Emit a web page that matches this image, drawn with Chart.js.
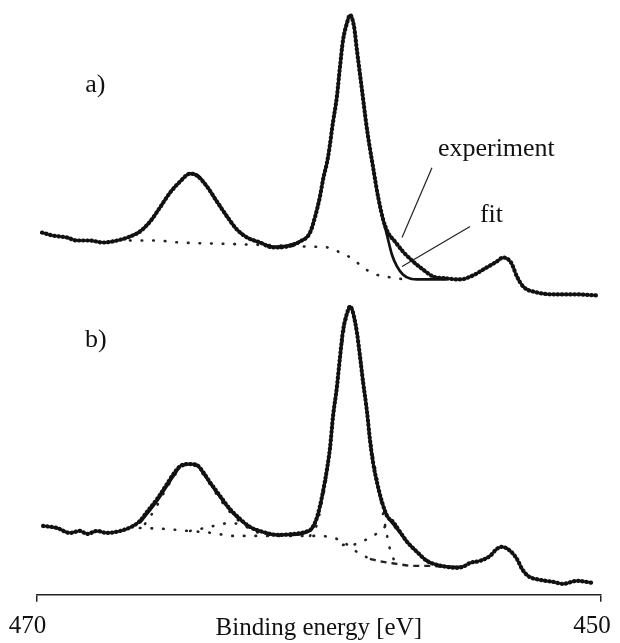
<!DOCTYPE html>
<html>
<head>
<meta charset="utf-8">
<script src="https://cdn.jsdelivr.net/npm/chart.js@4.4.1/dist/chart.umd.min.js"></script>
<style>
  html, body { margin: 0; padding: 0; background: #fff; }
  #wrap { width: 620px; height: 643px; }
</style>
</head>
<body>
<div id="wrap"><canvas id="xps" width="620" height="643"></canvas></div>
<script>
// XPS spectra, binding energy (eV) vs intensity (arb. units)

// a) experiment
var expA_E = [469.81,469.42,468.92,468.57,468.11,467.65,467.15,466.69,466.34,465.98,465.63,465.27,464.92,464.56,464.32,463.96,463.61,463.25,462.90,462.54,462.08,461.62,461.13,460.67,460.31,460.13,459.96,459.85,459.67,459.50,459.36,459.25,459.14,459.00,458.89,458.75,458.65,458.47,458.29,458.08,457.90,457.72,457.55,457.30,457.02,456.66,456.31,455.95,455.46,455.00,454.54,454.11,453.69,453.47,453.19,452.98,452.76,452.27,451.59,450.89,450.11];
var expA_I = [363,360,358,355,355,353,355,359,364,374,388,403,414,422,420,409,394,379,366,358,353,348,349,354,363,379,399,416,439,473,499,529,556,573,581,569,546,506,466,429,399,376,363,354,344,334,326,319,317,316,320,327,334,338,333,319,309,303,301,301,300];

// a) fit
var fitA_E = [466.69,466.34,465.98,465.63,465.27,464.92,464.56,464.32,463.96,463.61,463.25,462.90,462.54,462.08,461.62,461.13,460.67,460.31,460.13,459.96,459.85,459.67,459.50,459.36,459.25,459.14,459.00,458.89,458.75,458.65,458.47,458.29,458.08,457.90,457.72,457.58,457.41,457.23,457.02,456.77,456.41,455.46];
var fitA_I = [359,364,374,388,403,414,422,421,409,394,379,366,358,353,349,350,354,363,379,399,416,439,473,499,529,556,574,581,570,546,506,466,429,399,376,360,341,329,321,317,316,316];

// a) background
var bgA_E = [466.69,465.80,464.92,463.75,462.54,461.37,460.49,459.67,459.25,458.82,458.47,458.08,457.65,457.23,456.77];
var bgA_I = [355,355,353,352,351,350,349,348,343,337,329,322,319,317,316];

// b) experiment
var expB_E = [469.77,469.28,468.82,468.46,468.21,467.86,467.51,467.04,466.58,466.34,466.09,465.73,465.38,465.10,464.85,464.56,464.32,464.10,463.86,463.50,463.15,462.79,462.44,461.98,461.48,460.91,460.49,460.24,460.06,459.89,459.71,459.60,459.50,459.36,459.25,459.14,459.00,458.89,458.79,458.65,458.54,458.43,458.29,458.19,458.08,457.94,457.76,457.58,457.37,457.12,456.87,456.52,456.17,455.81,455.46,455.10,454.82,454.64,454.29,453.93,453.69,453.51,453.22,452.98,452.80,452.59,452.16,451.70,451.35,450.85,450.32];
var expB_I = [69,67,62,64,61,64,62,64,69,74,83,96,111,123,130,131,130,123,113,99,86,76,68,63,60,61,63,67,78,98,126,148,178,208,238,265,282,289,283,263,239,213,183,156,133,113,93,79,73,63,53,43,34,30,28,27,29,32,34,39,46,48,44,36,26,19,15,13,11,14,12];

// b) fit
var fitB_E = [466.34,466.09,465.73,465.38,465.10,464.85,464.56,464.32,464.10,463.86,463.50,463.15,462.79,462.44,461.98,461.48,460.91,460.49,460.24,460.06,459.89,459.71,459.60,459.50,459.36,459.25,459.14,459.00,458.89,458.79,458.65,458.54,458.43,458.29,458.19,458.08,457.94,457.76,457.58,457.37,457.12,456.87,456.52,456.17,455.81,455.35,454.89];
var fitB_I = [72,81,94,109,121,130,131,130,122,112,98,85,75,68,63,60,60,62,66,77,97,124,147,177,207,237,264,282,289,283,263,239,213,183,156,133,113,93,79,71,62,53,43,34,30,28,28];

// b) background (dotted part, then dashed tail)
var bgB_E = [466.34,465.45,464.63,463.78,463.04,462.08,461.37,460.21,459.60,459.14,458.65,458.19];
var bgB_I = [67,66,64,62,59,59,59,59,58,53,43,36];
var bgTailB_E = [458.19,457.72,457.23,456.66,456.17,455.46];
var bgTailB_I = [36,33,31,29,29,28];

// b) fit components
var mainB_E = [460.31,460.06,459.89,459.71,459.50,459.25,459.00,458.89,458.79,458.65,458.47,458.29,458.11,458.01,457.90,457.80,457.69,457.58,457.48,457.37,457.23];
var mainB_I = [59,71,93,121,176,236,280,287,281,261,223,183,144,128,111,94,76,59,46,37,31];
var shoulderB_E = [459.14,458.82,458.54,458.26,457.97,457.72,457.48,457.23,456.95,456.59,456.24,455.81,455.35];
var shoulderB_I = [50,50,53,56,61,67,70,66,56,45,36,30,28];
var p1B_E = [466.16,465.80,465.45,465.10,464.81,464.56,464.32,464.03,463.75,463.43,463.15,462.79,462.44,462.01,461.55];
var p1B_I = [71,86,104,120,129,130,128,118,106,93,83,73,66,61,59];
var smallB_E = [464.56,464.03,463.57,463.15,462.72,462.26,461.80];
var smallB_I = [64,67,70,72,70,65,60];

// leader lines for the labels in a)
var expLead_E = [455.99, 457.05];
var expLead_I = [428, 358];
var fitLead_E = [454.64, 457.05];
var fitLead_I = [369, 329];

var xTicks = [470, 450];

var annotations = [
    { text: 'a)', e: 467.92, i: 504, align: 'center' },
    { text: 'b)', e: 467.90, i: 248, align: 'center' },
    { text: 'experiment', e: 455.78, i: 440, align: 'left' },
    { text: 'fit', e: 454.29, i: 374, align: 'left' }
];

var SERIF = '"Liberation Serif", "Times New Roman", serif';

function pts(E, I) {
    var out = [];
    for (var k = 0; k < Math.min(E.length, I.length); k++) out.push({ x: E[k], y: I[k] });
    return out;
}

// experiment: heavy round dots along the measured trace
function expSet(E, I) {
    return { data: pts(E, I), borderColor: '#111', borderWidth: 4.2, borderDash: [0.6, 3.6],
             borderCapStyle: 'round', pointRadius: 0, cubicInterpolationMode: 'monotone', fill: false };
}
function fitSet(E, I) {
    return { data: pts(E, I), borderColor: '#111', borderWidth: 2.7, pointRadius: 0,
             cubicInterpolationMode: 'monotone', fill: false };
}
// background / components: sparse dots
function dotSet(E, I) {
    return { data: pts(E, I), borderColor: '#222', borderWidth: 2.6, borderDash: [0.6, 11],
             borderCapStyle: 'round', pointRadius: 0, cubicInterpolationMode: 'monotone', fill: false };
}
function leadSet(E, I) {
    return { data: pts(E, I), borderColor: '#222', borderWidth: 1.2, pointRadius: 0, fill: false };
}

var textPlugin = {
    id: 'panelText',
    afterDatasetsDraw: function (chart) {
        var ctx = chart.ctx, xs = chart.scales.x, ys = chart.scales.y;
        ctx.save();
        ctx.fillStyle = '#111';
        ctx.font = '26px ' + SERIF;
        ctx.textBaseline = 'alphabetic';
        annotations.forEach(function (a) {
            ctx.textAlign = a.align;
            ctx.fillText(a.text, xs.getPixelForValue(a.e), ys.getPixelForValue(a.i));
        });
        ctx.restore();
    }
};

var tailSet = dotSet(bgTailB_E, bgTailB_I);
tailSet.borderDash = [6, 5];
tailSet.borderWidth = 2.4;
tailSet.borderCapStyle = 'butt';

new Chart(document.getElementById('xps').getContext('2d'), {
    type: 'line',
    data: {
        datasets: [
            expSet(expA_E, expA_I),
            fitSet(fitA_E, fitA_I),
            dotSet(bgA_E, bgA_I),
            expSet(expB_E, expB_I),
            fitSet(fitB_E, fitB_I),
            dotSet(bgB_E, bgB_I),
            tailSet,
            dotSet(mainB_E, mainB_I),
            dotSet(shoulderB_E, shoulderB_I),
            dotSet(p1B_E, p1B_I),
            dotSet(smallB_E, smallB_I),
            leadSet(expLead_E, expLead_I),
            leadSet(fitLead_E, fitLead_I)
        ]
    },
    options: {
        responsive: false,
        animation: false,
        events: [],
        devicePixelRatio: 1,
        layout: { padding: { left: 36.6, right: 19, top: 6, bottom: 0 } },
        plugins: { legend: { display: false }, tooltip: { enabled: false } },
        scales: {
            x: {
                type: 'linear',
                reverse: true,
                min: 450,
                max: 470,
                afterBuildTicks: function (axis) { axis.ticks = xTicks.map(function (v) { return { value: v }; }); },
                ticks: {
                    color: '#111',
                    font: { family: SERIF, size: 25, lineHeight: 2 },
                    padding: 0,
                    labelOffset: -9,
                    maxRotation: 0,
                    autoSkip: false
                },
                grid: { drawOnChartArea: false, drawTicks: true, tickLength: 7, color: '#222', lineWidth: 1.5 },
                border: { display: true, color: '#222', width: 1.5 },
                title: {
                    display: true,
                    text: 'Binding energy [eV]',
                    color: '#111',
                    font: { family: SERIF, size: 25, lineHeight: 1.2 },
                    padding: { top: -38.8, bottom: 0 }
                }
            },
            y: { display: false, min: 0, max: 590 }
        }
    },
    plugins: [textPlugin]
});
</script>
</body>
</html>
